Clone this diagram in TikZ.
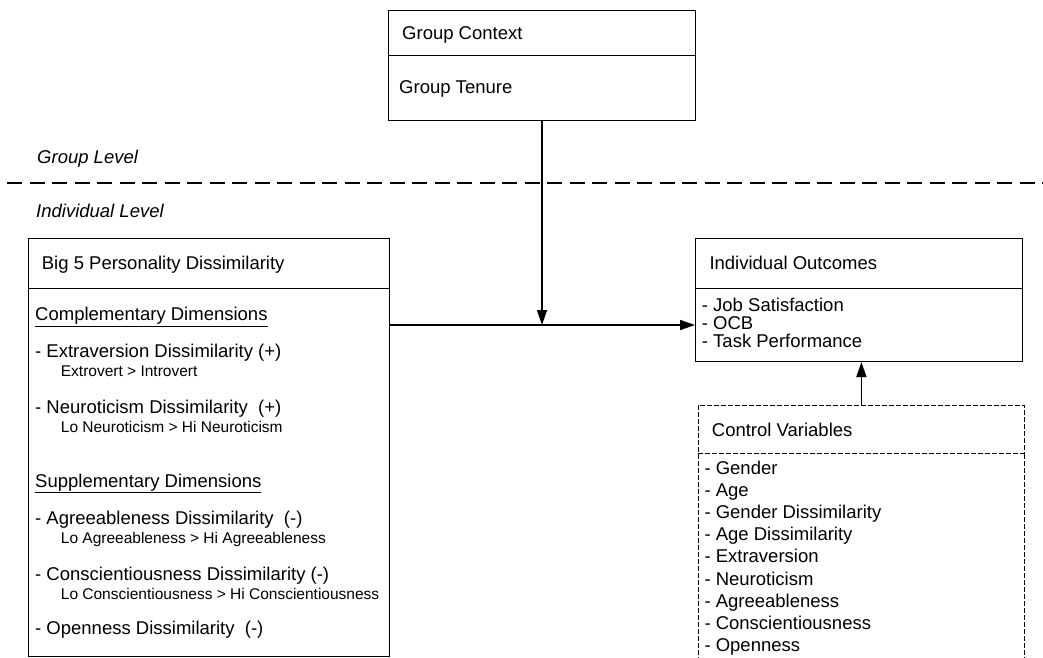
\documentclass[tikz,border=0pt]{standalone}
\usepackage{fontspec}
\setmainfont{Liberation Sans}
\usetikzlibrary{arrows.meta}
\newcommand{\bigtxt}{\fontsize{18.5}{22}\selectfont}
\newcommand{\smalltxt}{\fontsize{15.5}{18}\selectfont}

\begin{document}
\begin{tikzpicture}[x=1pt,y=-1pt,
  box/.style={draw,line width=1pt,inner sep=0pt,anchor=north west},
  ctrldash/.style={line width=0.8pt,dash pattern=on 5pt off 2pt},
  ctrlbox/.style={draw,ctrldash,inner sep=0pt,anchor=north west},
  lbl/.style={anchor=base west,inner sep=0pt,font=\bigtxt},
  sub/.style={anchor=base west,inner sep=0pt,font=\smalltxt},
  link/.style={line width=1.6pt,-{Triangle[length=15pt,width=10pt]}}]
\useasboundingbox (0,0) rectangle (1043,657);

% group level
\node[box,minimum width=307pt,minimum height=45pt] (ctx) at (388,10) {};
\node[box,minimum width=307pt,minimum height=65pt] (ctxbody) at (388,55) {};
\node[lbl] (ctxtitle) at (402,39.5) {Group Context};
\node[lbl] (tenure) at (399,93.5) {Group Tenure};

\node[lbl,font=\bigtxt\itshape] (grouplvl) at (37,163.3) {Group Level};
\draw[line width=2pt,dash pattern=on 15pt off 7.5pt] (7,183) -- (1043,183); %level border
\node[lbl,font=\bigtxt\itshape] (indlvl) at (36,217.3) {Individual Level};

% big 5
\node[box,minimum width=360.7pt,minimum height=50pt] (big5) at (28.3,238) {};
\node[box,minimum width=360.7pt,minimum height=367.7pt] (big5body) at (28.3,288) {};
\node[lbl] (big5title) at (41.7,269.3) {Big 5 Personality Dissimilarity};
\node[lbl] (compl) at (35,320.7) {\underline{Complementary Dimensions}};
\node[lbl] (extra) at (35,357.7) {- Extraversion Dissimilarity (+)};
\node[sub] (extrasub) at (60.7,376.7) {Extrovert > Introvert};
\node[lbl] (neuro) at (35,413.3) {- Neuroticism Dissimilarity~ (+)};
\node[sub] (neurosub) at (60.7,432.3) {Lo Neuroticism > Hi Neuroticism};
\node[lbl] (suppl) at (35,487.3) {\underline{Supplementary Dimensions}};
\node[lbl] (agree) at (35,524) {- Agreeableness Dissimilarity~ (-)};
\node[sub] (agreesub) at (60.7,543.3) {Lo Agreeableness > Hi Agreeableness};
\node[lbl] (consc) at (35,580) {- Conscientiousness Dissimilarity (-)};
\node[sub] (conscsub) at (60.7,599) {Lo Conscientiousness > Hi Conscientiousness};
\node[lbl] (open) at (35,634) {- Openness Dissimilarity~ (-)};

% outcomes
\node[box,minimum width=327pt,minimum height=50pt] (out) at (695,238) {};
\node[box,minimum width=327pt,minimum height=73pt] (outbody) at (695,288) {};
\node[lbl] (outtitle) at (709.3,269.3) {Individual Outcomes};
\node[lbl] (jobsat) at (701.7,311) {- Job Satisfaction};
\node[lbl] (ocb) at (701.7,329) {- OCB};
\node[lbl] (task) at (701.7,347.7) {- Task Performance};

% controls
\node[ctrlbox,minimum width=326pt,minimum height=48pt] (ctrl) at (698,405) {};
\draw[ctrldash] (ctrl.south west) -- ++(0,215);
\draw[ctrldash] (ctrl.south east) -- ++(0,215);
\node[lbl] (ctrltitle) at (711.7,436) {Control Variables};
\node[lbl] (gender) at (704.3,474) {- Gender};
\node[lbl] (age) at (704.3,496.2) {- Age};
\node[lbl] (genderdis) at (704.3,518.4) {- Gender Dissimilarity};
\node[lbl] (agedis) at (704.3,540.6) {- Age Dissimilarity};
\node[lbl] (cextra) at (704.3,562.8) {- Extraversion};
\node[lbl] (cneuro) at (704.3,585) {- Neuroticism};
\node[lbl] (cagree) at (704.3,607.2) {- Agreeableness};
\node[lbl] (cconsc) at (704.3,629.4) {- Conscientiousness};
\node[lbl] (copen) at (704.3,651.6) {- Openness};

% arrows
\coordinate (meet) at (ctxbody.south |- outbody.west);
\draw[link] (ctxbody.south) -- (meet);
\draw[link] (big5body.east |- outbody.west) -- (outbody.west);
\draw[link] (ctrl.north) -- (ctrl.north |- outbody.south);

\end{tikzpicture}
\end{document}
